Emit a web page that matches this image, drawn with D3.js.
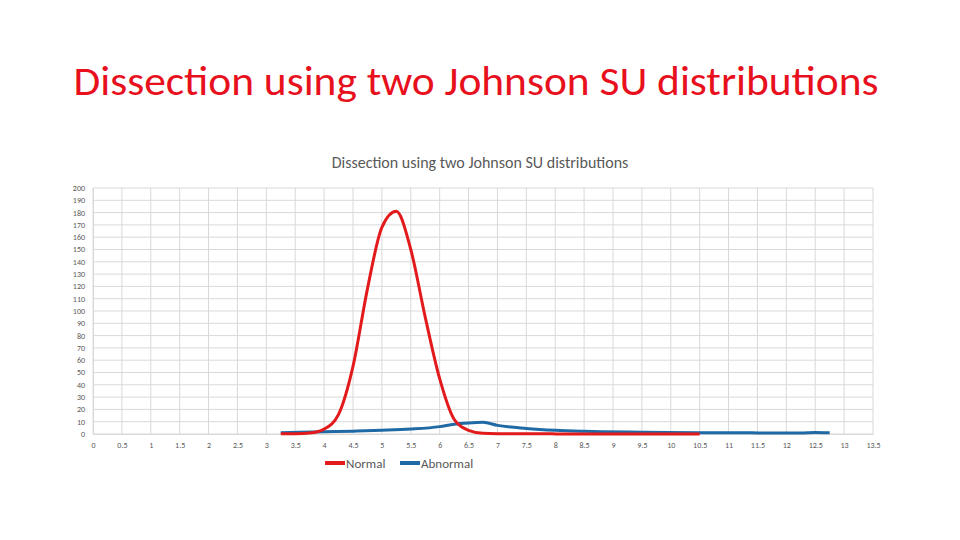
<!DOCTYPE html>
<html><head><meta charset="utf-8">
<script src="https://cdn.jsdelivr.net/npm/d3@7"></script>
<style>body{margin:0;background:#fff}</style>
</head><body>
<svg id="c" width="960" height="540"></svg>
<script>
const normalX = [3.25,3.5,3.75,4,4.25,4.5,4.75,5,5.25,5.5,5.75,6,6.25,6.5,6.75,7,8,9,10.5]
const normalY = [0.2,0.3,0.8,4,16,55,118,168,181,150,95,45,12,3,0.6,0.3,0.1,0,0]
const abnormalX = [3.25,4,4.5,5,5.5,6,6.25,6.5,6.75,7,7.5,8,8.5,9.5,10.5,11.5,12.25,12.5,12.75]
const abnormalY = [1,1.8,2.3,3,4,6,8,9,9.5,7,4.5,3,2.2,1.5,1.1,0.9,0.8,1.2,1]
const xTicks = d3.range(0, 13.51, 0.5)
const yTicks = d3.range(0, 201, 10)

const svg = d3.select('#c')
const font = 'Calibri, Carlito, "Liberation Sans", sans-serif'
const plotLeft = 93, plotRight = 873, plotTop = 188, plotBottom = 434

svg.append('text').attr('x', 476).attr('y', 95).attr('text-anchor', 'middle')
  .attr('font-family', font).attr('font-size', 40).attr('fill', '#e8101c')
  .attr('textLength', 805).attr('lengthAdjust', 'spacingAndGlyphs')
  .text('Dissection using two Johnson SU distributions')
svg.append('text').attr('x', 480).attr('y', 168).attr('text-anchor', 'middle')
  .attr('font-family', font).attr('font-size', 16).attr('fill', '#595959')
  .text('Dissection using two Johnson SU distributions')

const x = d3.scaleLinear().domain([0, 13.5]).range([plotLeft, plotRight])
const y = d3.scaleLinear().domain([0, 200]).range([plotBottom, plotTop])

svg.append('g').selectAll('line').data(yTicks).join('line')
  .attr('x1', plotLeft).attr('x2', plotRight).attr('y1', d => y(d)).attr('y2', d => y(d))
  .attr('stroke', '#d9d9d9')
svg.append('g').selectAll('line').data(xTicks).join('line')
  .attr('y1', plotTop).attr('y2', plotBottom).attr('x1', d => x(d)).attr('x2', d => x(d))
  .attr('stroke', '#d9d9d9')

const xAxis = svg.append('g').attr('transform', `translate(0,${plotBottom})`)
  .call(d3.axisBottom(x).tickValues(xTicks).tickSize(0).tickPadding(8).tickFormat(d3.format('')))
const yAxis = svg.append('g').attr('transform', `translate(${plotLeft},0)`)
  .call(d3.axisLeft(y).tickValues(yTicks).tickSize(0).tickPadding(8))
;[xAxis, yAxis].forEach(a => {
  a.select('.domain').attr('stroke', '#d9d9d9')
  a.selectAll('text').attr('font-family', font).attr('font-size', 8).attr('fill', '#595959')
})
yAxis.selectAll('text').attr('dy', '0.3em')

const line = d3.line().x(d => x(d[0])).y(d => y(d[1])).curve(d3.curveMonotoneX)
svg.append('path').datum(d3.zip(abnormalX, abnormalY)).attr('d', line)
  .attr('fill', 'none').attr('stroke', '#1f6aa5').attr('stroke-width', 3)
svg.append('path').datum(d3.zip(normalX, normalY)).attr('d', line)
  .attr('fill', 'none').attr('stroke', '#e31a1c').attr('stroke-width', 3)

const legend = [['Normal', '#e31a1c', 325], ['Abnormal', '#1f6aa5', 400]]
legend.forEach(([name, col, lx]) => {
  svg.append('line').attr('x1', lx).attr('x2', lx + 20).attr('y1', 463).attr('y2', 463)
    .attr('stroke', col).attr('stroke-width', 4)
  svg.append('text').attr('x', lx + 21).attr('y', 468).attr('font-family', font)
    .attr('font-size', 13).attr('fill', '#595959').text(name)
})
</script>
</body></html>
